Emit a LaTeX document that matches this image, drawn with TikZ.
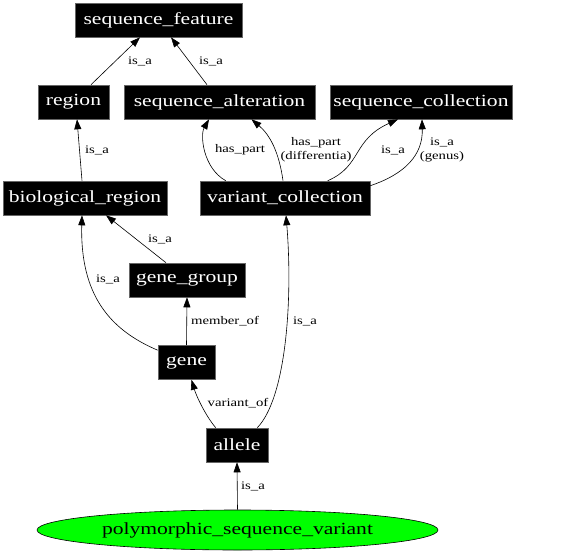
\documentclass[tikz,border=0pt]{standalone}
\usepackage{fontspec}
\setmainfont{Liberation Serif}[FakeStretch=1.27]
\usetikzlibrary{arrows.meta,calc,shapes.geometric}
\definecolor{vgreen}{RGB}{0,255,0}
\tikzset{
  box/.style={fill=black, draw=black!60, line width=0.6pt, text=white,
    font=\fontsize{17}{20}\selectfont, minimum height=34pt, inner sep=0pt},
  psvstyle/.style={ellipse, fill=vgreen, draw=black, line width=0.6pt, text=black,
    font=\fontsize{17}{20}\selectfont, minimum width=401pt, minimum height=40pt, inner sep=0pt},
  arr/.style={-{Triangle[length=10pt,width=7pt]}, line width=0.6pt},
  lbl/.style={font=\fontsize{11.6}{14}\selectfont, inner sep=0pt, align=center}
}
\begin{document}
\begin{tikzpicture}[x=1pt,y=-1pt]
\useasboundingbox (0,0) rectangle (576,554);
% nodes
\node[box, minimum width=167pt] (sf) at (158.5,20) {sequence\_feature};
\node[box, minimum width=71pt] (r) at (73.5,102) {region};
\node[box, minimum width=191pt] (sa) at (219.5,102) {sequence\_alteration};
\node[box, minimum width=182pt] (sc) at (421,102) {sequence\_collection};
\node[box, minimum width=164pt] (br) at (85,198) {biological\_region};
\node[box, minimum width=170pt] (vc) at (285,198) {variant\_collection};
\node[box, minimum width=116pt] (gg) at (187,280) {gene\_group};
\node[box, minimum width=57pt] (gene) at (186.5,362.5) {gene};
\node[box, minimum width=62pt] (al) at (237,445) {allele};
\node[psvstyle] (psv) at (237.5,530) {polymorphic\_sequence\_variant};
% edges
\draw[arr] ($(r.north)+(17.5,0)$) -- ($(sf.south)+(-18.5,0)$);
\draw[arr] ($(sa.north)+(-12.5,0)$) -- ($(sf.south)+(12.5,0)$);
\draw[arr] ($(br.north)+(-3,0)$) -- ($(r.south)+(3.5,0)$);
\draw[arr] ($(vc.north west)+(26,0)$) .. controls (203,168) and (200,135) .. ($(sa.south)+(-10.5,0)$);
\draw[arr] ($(vc.north)+(-2,0)$) .. controls (279,152) and (270,135) .. ($(sa.south)+(32,0)$);
\draw[arr] ($(vc.north west)+(128,0)$) .. controls (362,166) and (352,140) .. ($(sc.south)+(-23,0)$);
\draw[arr] ($(vc.north east)+(0,5)$) .. controls (405,174) and (423,155) .. ($(sc.south)+(1,0)$);
\draw[arr] ($(gg.north)+(-21,0)$) -- ($(br.south)+(21,0)$);
\draw[arr] ($(gene.north west)+(0,5)$) .. controls (110,330) and (80,295) .. ($(br.south)+(-3,0)$);
\draw[arr] (gene.north) -- (gg.south);
\draw[arr] ($(al.north west)+(10,0)$) .. controls (205,415) and (196,395) .. ($(gene.south)+(5,0)$);
\draw[arr] ($(al.north east)+(-11,0)$) .. controls (286,398) and (293,300) .. ($(vc.south)+(1,0)$);
\draw[arr] (psv.north) -- (al.south);
% labels
\node[lbl] (l1) at (140,61) {is\_a};
\node[lbl] (l2) at (211,61) {is\_a};
\node[lbl] (l3) at (97,150) {is\_a};
\node[lbl] (l4) at (240,150) {has\_part};
\node[lbl] (l5) at (316,150) {has\_part\\(differentia)};
\node[lbl] (l6) at (393,150) {is\_a};
\node[lbl] (l7) at (442,150) {is\_a\\(genus)};
\node[lbl] (l8) at (160,239) {is\_a};
\node[lbl] (l9) at (108,279) {is\_a};
\node[lbl] (l10) at (225,321) {member\_of};
\node[lbl] (l11) at (305,321) {is\_a};
\node[lbl] (l12) at (238,403) {variant\_of};
\node[lbl] (l13) at (253,486) {is\_a};
\end{tikzpicture}
\end{document}
